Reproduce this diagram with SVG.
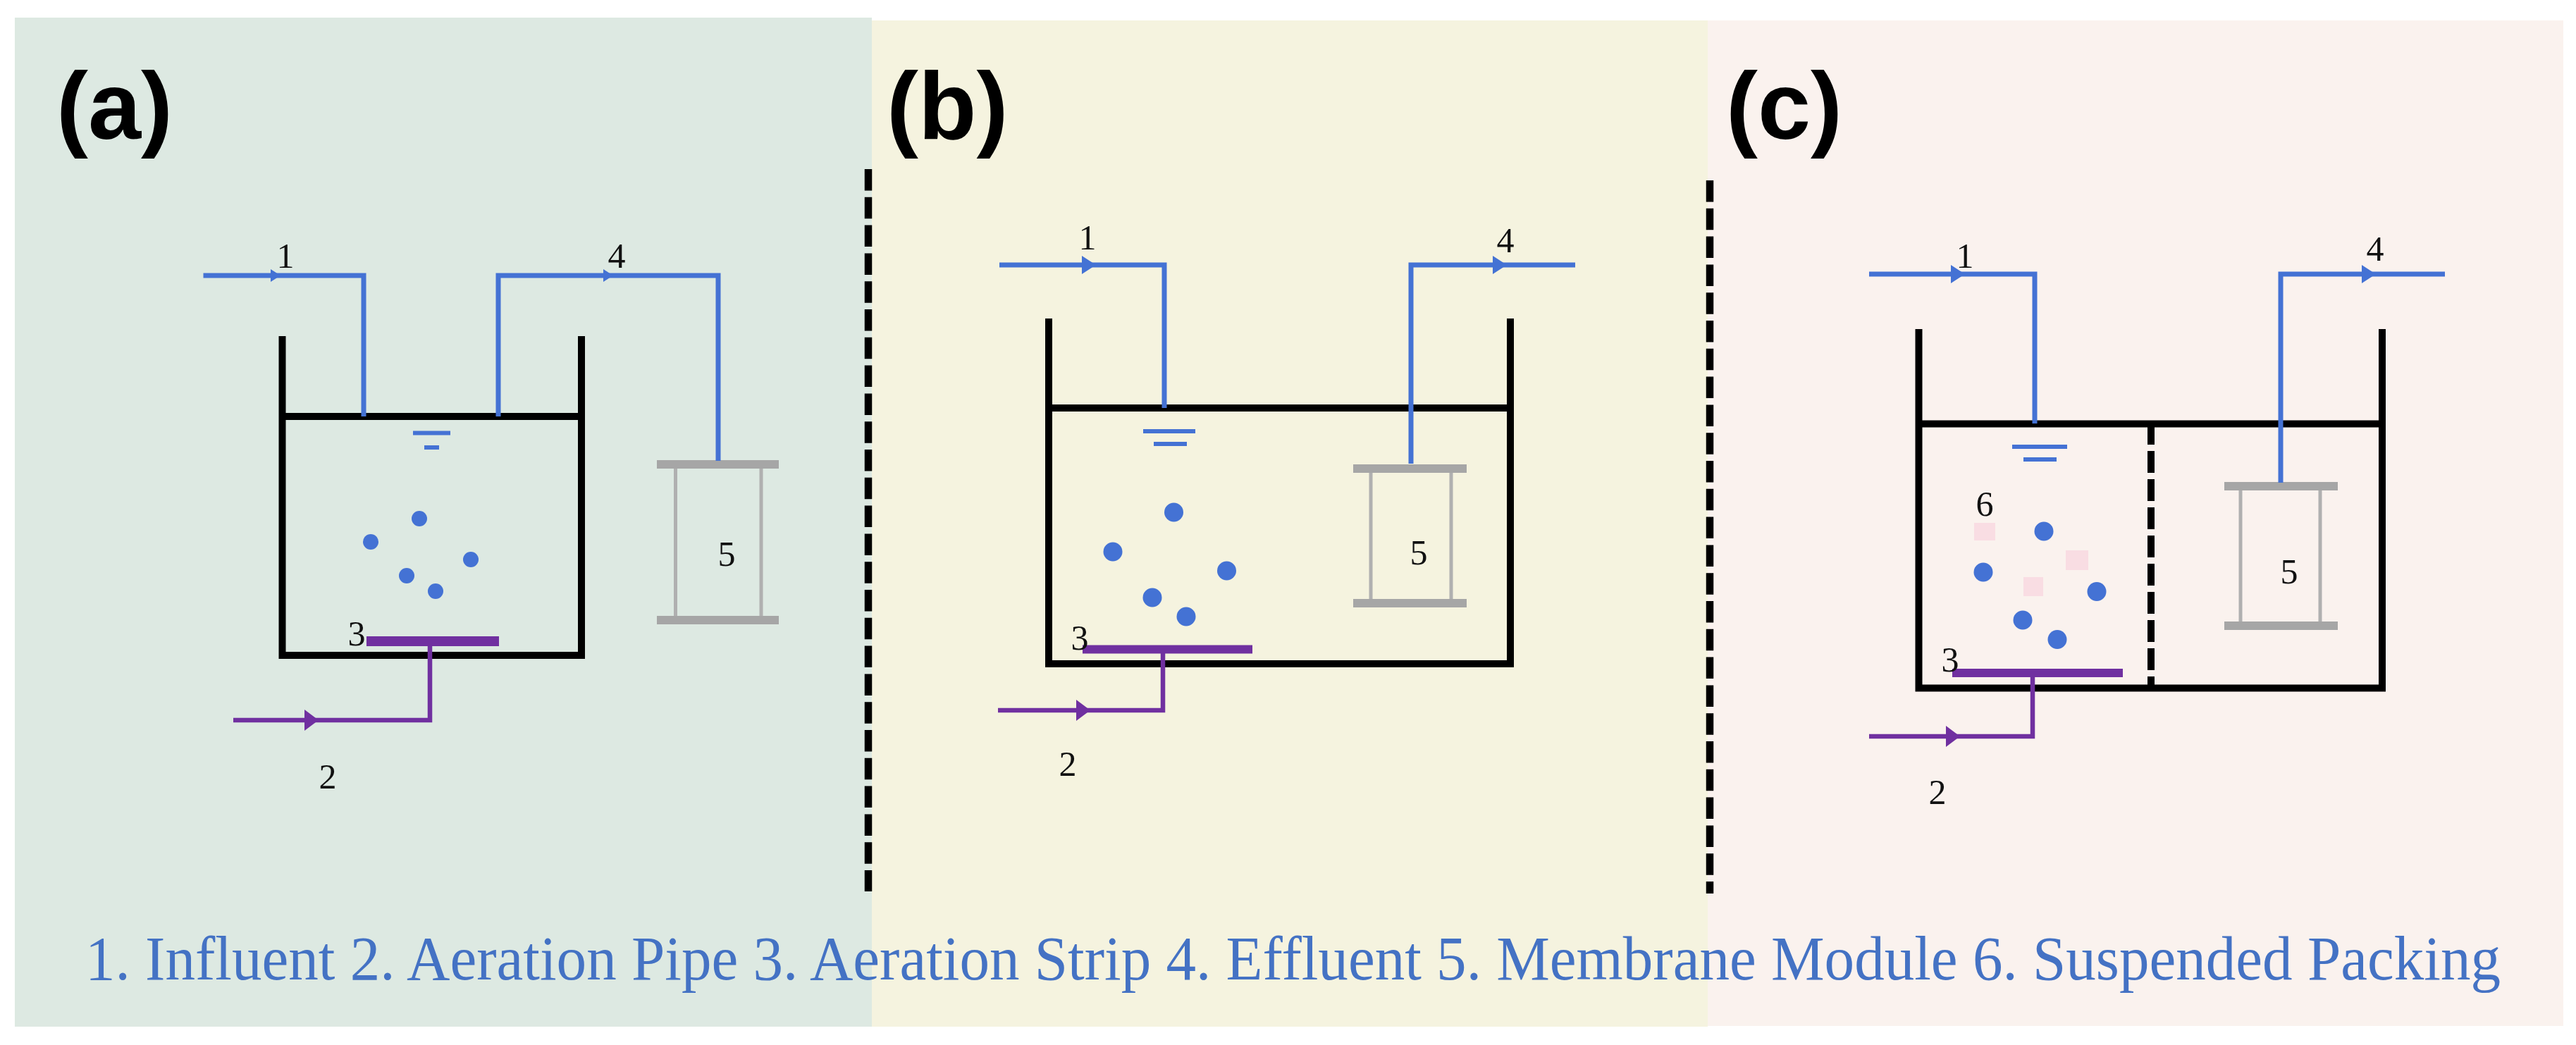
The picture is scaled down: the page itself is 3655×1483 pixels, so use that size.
<svg xmlns="http://www.w3.org/2000/svg" width="3655" height="1483" viewBox="0 0 3655 1483">
<style>
.tank{fill:none;stroke:#000;stroke-width:10}
.blue{fill:none;stroke:#4472D4;stroke-width:7}
.air{fill:none;stroke:#7030A0;stroke-width:6.500}
.strip{stroke:#7030A0;stroke-width:12}
.bar{stroke:#A6A6A6;stroke-width:12}
.side{stroke:#B0B0B0;stroke-width:5}
.wl{stroke:#4472D4;stroke-width:6}
.dot{fill:#4472D4}
.pack{fill:#F9DDE3}
.div{fill:none;stroke:#000;stroke-width:10.500;stroke-dasharray:30.500 9.300}
.num{font-family:"Liberation Serif",serif;font-size:50px;fill:#111;text-anchor:middle}
.tag{font-family:"Liberation Sans",sans-serif;font-weight:700;font-size:135px;fill:#000}
.cap{font-family:"Liberation Serif",serif;font-size:88px;fill:#4472C4}
</style>
<defs>
<polygon id="ab" points="-10,-13 10,0 -10,13" fill="#4472D4"/>
<polygon id="ap" points="-10,-15 10,0 -10,15" fill="#7030A0"/>
</defs>
<rect width="3655" height="1483" fill="#fff"/>
<rect id="bg-a" x="21" y="25" width="1216" height="1432" fill="#DDE9E2"/>
<rect id="bg-b" x="1237" y="29" width="1186" height="1428" fill="#F5F3DF"/>
<rect id="bg-c" x="2423" y="29" width="1214" height="1427" fill="#FAF2EE"/>
<g id="dividers">
<path class="div" d="M1232 240V1265"/>
<path class="div" d="M2426 256V1268"/>
</g>
<g id="panel-a">
<text class="tag" x="80" y="197">(a)</text>
<g id="tank-a"><path class="tank" d="M400.500 477V930H825V477M400.500 591H825"/></g>
<g id="level-a"><path class="wl" d="M586 614.500H639M602 635H623"/></g>
<g id="bubbles-a" class="dot"><circle cx="595" cy="736" r="11"/><circle cx="526" cy="769" r="11"/><circle cx="668" cy="794" r="11"/><circle cx="577" cy="817" r="11"/><circle cx="618" cy="839" r="11"/></g>
<g id="strip-a"><path class="strip" style="stroke-width:14" d="M520 910H708"/></g>
<g id="membrane-a"><path class="side" d="M958.500 659V880M1080 659V880"/><path class="bar" d="M932 659H1105M932 880H1105"/></g>
<text class="num" x="405" y="380">1</text><text class="num" x="875" y="380">4</text><text class="num" x="1031" y="803">5</text><text class="num" x="506" y="916">3</text><text class="num" x="465" y="1119">2</text>
</g>
<g id="panel-b">
<text class="tag" x="1258" y="197">(b)</text>
<g id="tank-b"><path class="tank" d="M1488 452V942H2143V452M1488 579H2143"/></g>
<g id="level-b"><path class="wl" d="M1622 612H1696M1637 630H1684"/></g>
<g id="bubbles-b" class="dot"><circle cx="1665.500" cy="727" r="13.500"/><circle cx="1579" cy="783" r="13.500"/><circle cx="1740.500" cy="810" r="13.500"/><circle cx="1635" cy="848" r="13.500"/><circle cx="1683" cy="875" r="13.500"/></g>
<g id="strip-b"><path class="strip" d="M1536 921.500H1777"/></g>
<g id="membrane-b"><path class="side" d="M1945 665V856M2059 665V856"/><path class="bar" d="M1920 665H2081M1920 856H2081"/></g>
<text class="num" x="1543" y="354">1</text><text class="num" x="2136" y="358">4</text><text class="num" x="2013" y="801">5</text><text class="num" x="1532" y="922">3</text><text class="num" x="1515" y="1101">2</text>
</g>
<g id="panel-c">
<text class="tag" x="2449" y="197">(c)</text>
<g id="tank-c"><path class="tank" d="M2722.500 467V976.500H3380V467M2722.500 601.500H3380"/><path class="div" d="M3052 600V974" style="stroke-dasharray:31 9;stroke-width:10"/></g>
<g id="level-c"><path class="wl" d="M2855 634H2933M2871 652H2918"/></g>
<g id="packing-c" class="pack"><rect x="2801" y="742" width="30" height="25"/><rect x="2931" y="781" width="32" height="28"/><rect x="2871" y="819" width="28" height="27"/></g>
<g id="bubbles-c" class="dot"><circle cx="2900" cy="754" r="13.500"/><circle cx="2814" cy="812" r="13.500"/><circle cx="2975" cy="839.500" r="13.500"/><circle cx="2870" cy="880" r="13.500"/><circle cx="2919" cy="907.500" r="13.500"/></g>
<g id="strip-c"><path class="strip" d="M2770 955H3012"/></g>
<g id="membrane-c"><path class="side" d="M3179 690V888M3292 690V888"/><path class="bar" d="M3156 690H3317M3156 888H3317"/></g>
<text class="num" x="2788" y="380">1</text><text class="num" x="3370" y="370">4</text><text class="num" x="2816" y="732">6</text><text class="num" x="3248" y="828">5</text><text class="num" x="2767" y="953">3</text><text class="num" x="2749" y="1141">2</text>
</g>
<g id="connectors">
<path class="blue" d="M288.500 391H516V591"/><use href="#ab" transform="translate(391 391) scale(.7)"/>
<path class="blue" d="M707 591V391H1019V654"/><use href="#ab" transform="translate(863 391) scale(.7)"/>
<path class="air" d="M610 910V1022H331"/><use href="#ap" transform="translate(442 1022)"/>
<path class="blue" d="M1418 376H1652V579"/><use href="#ab" transform="translate(1545 376)"/>
<path class="blue" d="M2002 658V376H2235"/><use href="#ab" transform="translate(2128 376)"/>
<path class="air" d="M1650 921V1008H1416"/><use href="#ap" transform="translate(1537 1008)"/>
<path class="blue" d="M2652 389H2887V601"/><use href="#ab" transform="translate(2778 389)"/>
<path class="blue" d="M3236 685V389H3469"/><use href="#ab" transform="translate(3361 389)"/>
<path class="air" d="M2884 955V1045H2652"/><use href="#ap" transform="translate(2771 1045)"/>
</g>
<text id="caption" class="cap" x="121" y="1390" textLength="3427" lengthAdjust="spacingAndGlyphs">1. Influent 2. Aeration Pipe 3. Aeration Strip 4. Effluent 5. Membrane Module 6. Suspended Packing</text>
</svg>
